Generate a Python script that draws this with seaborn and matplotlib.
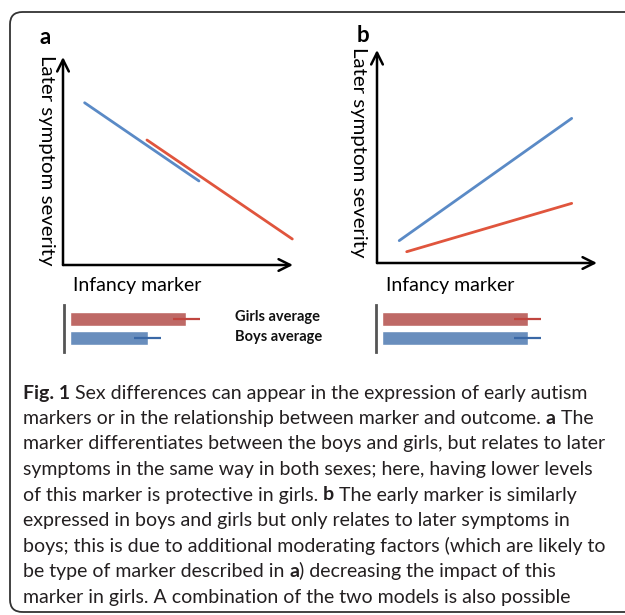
import pandas as pd
import matplotlib
matplotlib.use("Agg")
import matplotlib.pyplot as plt
import seaborn as sns
from matplotlib.patches import FancyBboxPatch

sns.set_theme(style="white")
plt.rcParams['font.family'] = ['Lato', 'DejaVu Sans']

# Panel a: marker differs by sex, same slope
a_boys_x = [0.94, 5.91]
a_boys_y = [7.80, 4.04]
a_girls_x = [3.65, 9.97]
a_girls_y = [6.01, 1.25]

# Panel b: marker similar, only boys relate to outcome
b_boys_x = [1.01, 8.85]
b_boys_y = [1.05, 6.79]
b_girls_x = [1.35, 8.85]
b_girls_y = [0.53, 2.80]

groups = ["Girls average", "Boys average"]
a_means = [80.1, 53.4]
a_err = [9.2, 9.2]
b_means = [100.0, 100.0]
b_err = [9.2, 9.2]

caption = [
    [("Fig. 1", "bold"), (" Sex differences can appear in the expression of early autism", "normal")],
    [("markers or in the relationship between marker and outcome. ", "normal"), ("a", "bold"), (" The", "normal")],
    [("marker differentiates between the boys and girls, but relates to later", "normal")],
    [("symptoms in the same way in both sexes; here, having lower levels", "normal")],
    [("of this marker is protective in girls. ", "normal"), ("b", "bold"), (" The early marker is similarly", "normal")],
    [("expressed in boys and girls but only relates to later symptoms in", "normal")],
    [("boys; this is due to additional moderating factors (which are likely to", "normal")],
    [("be type of marker described in ", "normal"), ("a", "bold"), (") decreasing the impact of this", "normal")],
    [("marker in girls. A combination of the two models is also possible", "normal")],
]

BLUE_LINE = "#5A8AC6"
RED_LINE = "#E0553D"
BLUE_BAR = "#5B8DCB"
RED_BAR = "#CD5B57"
BLUE_ERR = "#3A68A6"
RED_ERR = "#C0453F"
TXT = "#231F20"

W, H = 625, 615


def px_rect(left, top, w, h):
    return [left / W, 1 - (top + h) / H, w / W, h / H]


def fx(x):
    return x / W


def fy(y):
    return 1 - y / H


fig = plt.figure(figsize=(W / 100, H / 100), dpi=100)
fig.patch.set_facecolor("white")

# frame around figure + caption (right edge runs off the image)
frame = FancyBboxPatch((fx(10), fy(612)), fx(680) - fx(10), fy(12) - fy(612),
                       boxstyle="round,pad=0,rounding_size=0.02",
                       transform=fig.transFigure, fill=False,
                       edgecolor="#333333", lw=1.3, zorder=0)
fig.add_artist(frame)


def line_panel(rect, bx, by, gx, gy):
    ax = fig.add_axes(rect)
    df = pd.DataFrame({
        "marker": bx + gx,
        "severity": by + gy,
        "sex": ["Boys"] * len(bx) + ["Girls"] * len(gx),
    })
    sns.lineplot(data=df, x="marker", y="severity", hue="sex",
                 palette={"Boys": BLUE_LINE, "Girls": RED_LINE},
                 legend=False, lw=2, ax=ax)
    for ln in ax.lines:
        ln.set_clip_on(False)
    ax.set_xlim(0, 10)
    ax.set_ylim(0, 10)
    ax.axis("off")
    arrow = dict(arrowstyle="->,head_length=0.7,head_width=0.35", lw=1.8, color="black",
                 shrinkA=0, shrinkB=0)
    ax.annotate("", xy=(1, 0), xytext=(0, 0), xycoords="axes fraction", arrowprops=arrow)
    ax.annotate("", xy=(0, 1), xytext=(0, 0), xycoords="axes fraction", arrowprops=arrow)
    return ax


def bar_panel(rect, means, errs):
    ax = fig.add_axes(rect)
    df = pd.DataFrame({"group": groups, "value": means})
    sns.barplot(data=df, x="value", y="group", hue="group", orient="h",
                palette={groups[0]: RED_BAR, groups[1]: BLUE_BAR},
                width=0.74, legend=False, ax=ax)
    for i, (m, e, c) in enumerate(zip(means, errs, [RED_ERR, BLUE_ERR])):
        ax.errorbar(m, i, xerr=e, fmt="none", ecolor=c, elinewidth=1.6, capsize=0)
    ax.set_xlim(-3.8, 119.5)
    ax.set_ylim(1.74, -0.74)
    for s in ["top", "right", "bottom"]:
        ax.spines[s].set_visible(False)
    ax.spines["left"].set_color("#555555")
    ax.spines["left"].set_linewidth(2)
    ax.set_xticks([])
    ax.set_yticks([])
    ax.set_xlabel("")
    ax.set_ylabel("")
    ax.patch.set_alpha(0)
    return ax


line_panel(px_rect(63, 57, 230, 208), a_boys_x, a_boys_y, a_girls_x, a_girls_y)
line_panel(px_rect(377, 50, 220, 213), b_boys_x, b_boys_y, b_girls_x, b_girls_y)
bar_panel(px_rect(64, 305, 180, 47), a_means, a_err)
bar_panel(px_rect(376, 305, 180, 47), b_means, b_err)

# panel labels and axis titles
fig.text(fx(40), fy(38), "a", fontsize=16, fontweight="bold", color="black", va="center")
fig.text(fx(357), fy(35), "b", fontsize=16, fontweight="bold", color="black", va="center")
fig.text(fx(46), fy(160), "Later symptom severity", rotation=-90, fontsize=14.7,
         color="black", ha="center", va="center")
fig.text(fx(359), fy(152), "Later symptom severity", rotation=-90, fontsize=14.7,
         color="black", ha="center", va="center")
fig.text(fx(73), fy(285), "Infancy marker", fontsize=14, color="black", va="center")
fig.text(fx(386), fy(285), "Infancy marker", fontsize=14, color="black", va="center")
fig.text(fx(235), fy(317), groups[0], fontsize=10.5, fontweight="bold", color="#111111", va="center")
fig.text(fx(235), fy(337), groups[1], fontsize=10.5, fontweight="bold", color="#111111", va="center")

# caption, pieces chained so bold words sit inline
cap_ax = fig.add_axes([0, 0, 1, 1])
cap_ax.axis("off")
cap_ax.patch.set_alpha(0)
y0, dy = 393, 25.5
for i, pieces in enumerate(caption):
    prev = None
    for text, weight in pieces:
        if prev is None:
            prev = cap_ax.text(fx(23), fy(y0 + i * dy), text, fontsize=14, fontweight=weight,
                               color=TXT, va="center", ha="left", transform=cap_ax.transAxes)
        else:
            prev = cap_ax.annotate(text, xy=(1, 0), xycoords=prev, fontsize=14,
                                   fontweight=weight, color=TXT, va="bottom", ha="left")

fig.savefig("out.png", dpi=100)
plt.close(fig)
